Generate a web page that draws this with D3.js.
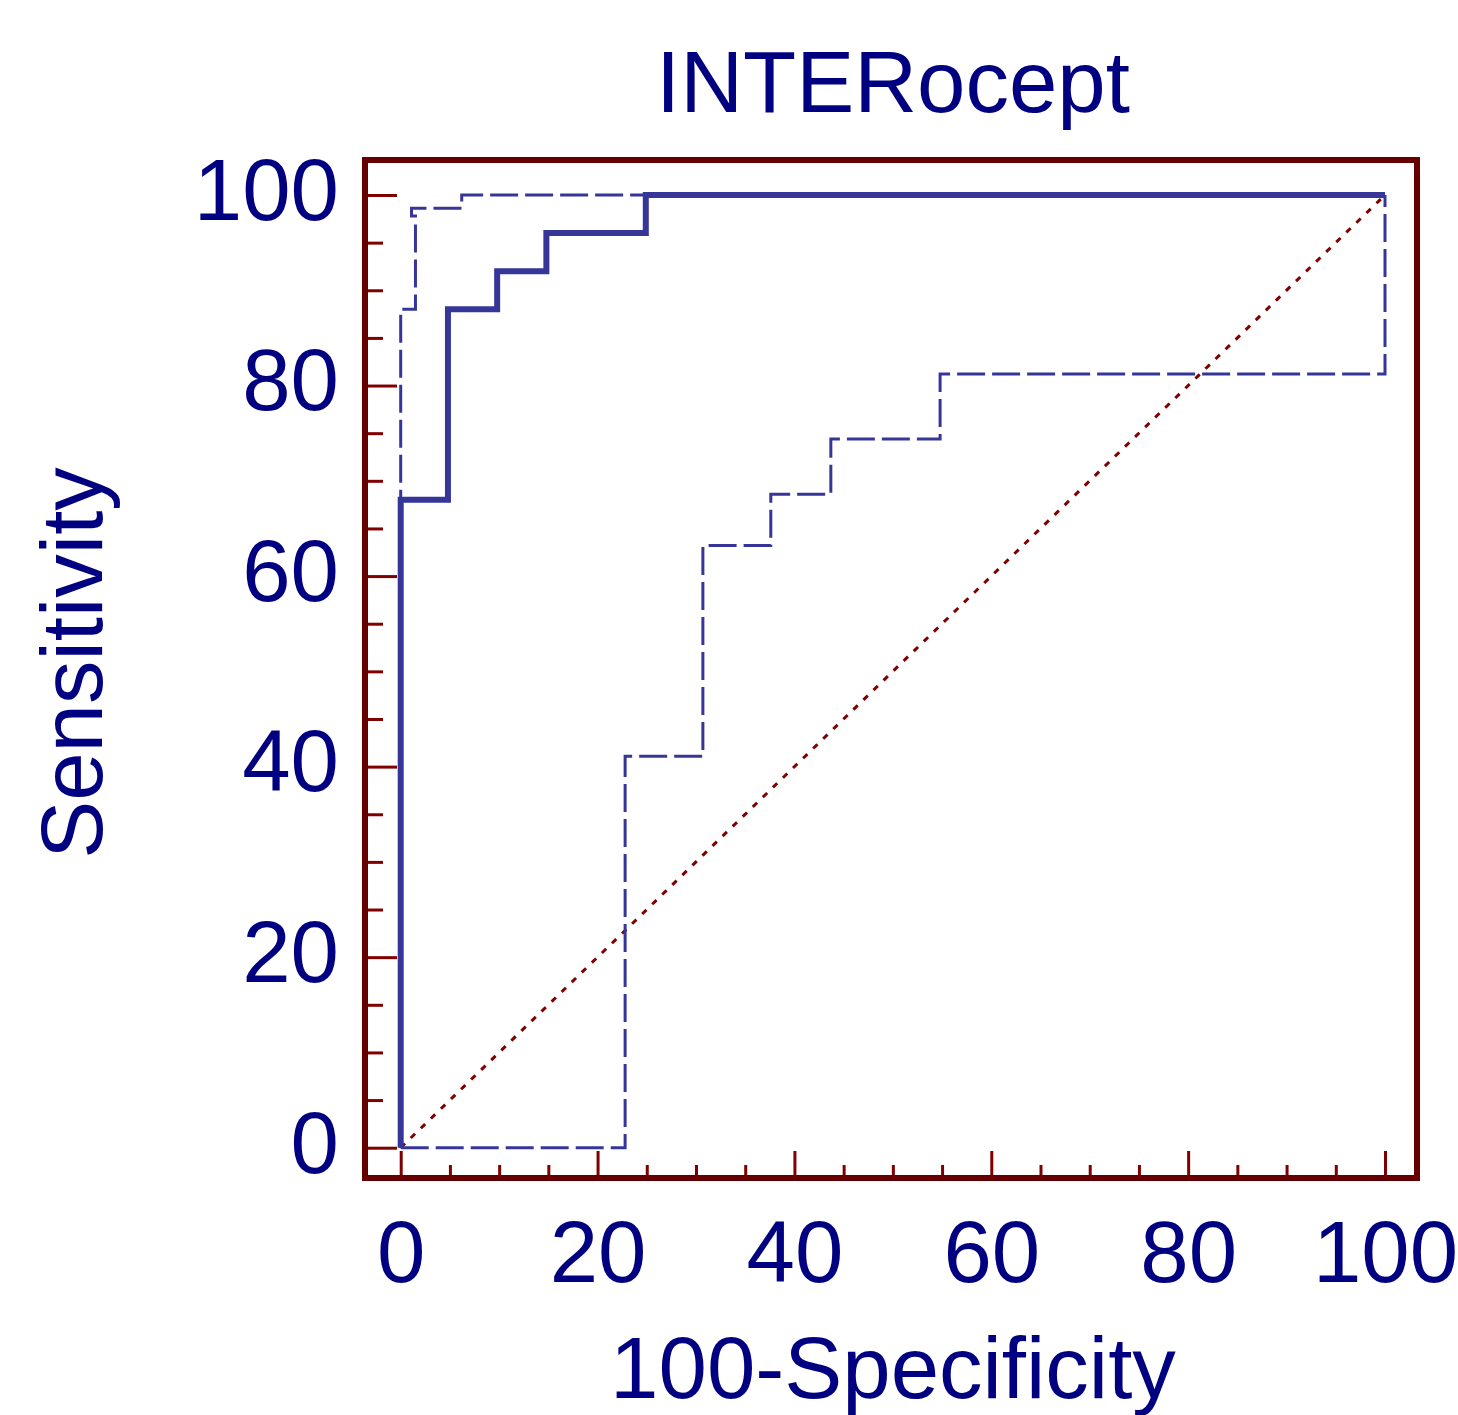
<!DOCTYPE html>
<html>
<head>
<meta charset="utf-8">
<script src="https://cdn.jsdelivr.net/npm/d3@7"></script>
<style>
  body { margin: 0; background: #fff; }
  text { font-family: "Liberation Sans", Arial, sans-serif; fill: #000080; }
</style>
</head>
<body>
<svg id="chart" width="1458" height="1415"></svg>
<script>
// ROC curve (solid) and its 95% confidence bounds (dashed)
const rocX = [0, 0, 4.8, 4.8, 9.8, 9.8, 14.8, 14.8, 24.9, 24.9, 100];
const rocY = [0, 68, 68, 88, 88, 92, 92, 96, 96, 100, 100];

const upperX = [0, 0, 1.5, 1.5, 1.1, 1.1, 6.2, 6.2, 100];
const upperY = [0, 88, 88, 97.8, 97.8, 98.6, 98.6, 100, 100];

const lowerX = [0, 22.8, 22.8, 30.7, 30.7, 37.6, 37.6, 43.7, 43.7, 54.8, 54.8, 100, 100];
const lowerY = [0, 0, 41.1, 41.1, 63.2, 63.2, 68.6, 68.6, 74.4, 74.4, 81.2, 81.2, 100];

const diagX = [0, 100];
const diagY = [0, 100];

const majorTicks = [0, 20, 40, 60, 80, 100];
const minorTicks = [5, 10, 15, 25, 30, 35, 45, 50, 55, 65, 70, 75, 85, 90, 95];

const title = "INTERocept";
const xTitle = "100-Specificity";
const yTitle = "Sensitivity";

const svg = d3.select("#chart");
const frame = { left: 365, right: 1417, top: 160, bottom: 1178 };

const x = d3.scaleLinear().domain([0, 100]).range([400.7, 1385]);
const y = d3.scaleLinear().domain([0, 100]).range([1147.7, 195]);

const tickColor = "#800000";
const curveColor = "#363699";

function pts(xs, ys) { return xs.map((v, i) => [x(v), y(ys[i])]); }
const line = d3.line();

// tick marks inside the frame
function tickAxis(axis, tf, values, size) {
    const g = svg.append("g").attr("transform", tf)
        .call(axis.tickValues(values).tickSizeInner(size).tickSizeOuter(0).tickFormat(""));
    g.select(".domain").remove();
    g.selectAll(".tick line").attr("stroke", tickColor).attr("stroke-width", 3);
}
tickAxis(d3.axisLeft(y), `translate(${frame.left},0)`, majorTicks, -32);
tickAxis(d3.axisLeft(y), `translate(${frame.left},0)`, minorTicks, -18);
tickAxis(d3.axisBottom(x), `translate(0,${frame.bottom})`, majorTicks, -27);
tickAxis(d3.axisBottom(x), `translate(0,${frame.bottom})`, minorTicks, -13);

// tick labels
const yl = svg.append("g").attr("transform", `translate(${frame.left},0)`)
    .call(d3.axisLeft(y).tickValues(majorTicks).tickSize(0).tickPadding(26));
yl.select(".domain").remove();
yl.selectAll("text").attr("font-size", 87).attr("dy", "0.28em")
    .style("font-family", "Liberation Sans, Arial, sans-serif").attr("fill", "#000080");

const xl = svg.append("g").attr("transform", `translate(0,${frame.bottom})`)
    .call(d3.axisBottom(x).tickValues(majorTicks).tickSize(0).tickPadding(42));
xl.select(".domain").remove();
xl.selectAll("text").attr("font-size", 87)
    .style("font-family", "Liberation Sans, Arial, sans-serif").attr("fill", "#000080");

// diagonal reference line
svg.append("path").attr("d", line(pts(diagX, diagY)))
    .attr("fill", "none").attr("stroke", "#800000").attr("stroke-width", 3)
    .attr("stroke-dasharray", "6,8");

// confidence bounds
[[upperX, upperY], [lowerX, lowerY]].forEach(([xs, ys]) => {
    svg.append("path").attr("d", line(pts(xs, ys)))
        .attr("fill", "none").attr("stroke", curveColor).attr("stroke-width", 3)
        .attr("stroke-dasharray", "28,7");
});

// ROC curve
svg.append("path").attr("d", line(pts(rocX, rocY)))
    .attr("fill", "none").attr("stroke", curveColor).attr("stroke-width", 6)
    .attr("stroke-linejoin", "miter");

// frame
svg.append("rect")
    .attr("x", frame.left).attr("y", frame.top)
    .attr("width", frame.right - frame.left).attr("height", frame.bottom - frame.top)
    .attr("fill", "none").attr("stroke", "#660000").attr("stroke-width", 6);

// titles
const cx = 893;
svg.append("text").attr("x", cx).attr("y", 112).attr("text-anchor", "middle")
    .attr("font-size", 87).text(title);
svg.append("text").attr("x", cx).attr("y", 1398).attr("text-anchor", "middle")
    .attr("font-size", 87).text(xTitle);
svg.append("text").attr("transform", "translate(102,663) rotate(-90)")
    .attr("text-anchor", "middle").attr("font-size", 87).text(yTitle);
</script>
</body>
</html>
